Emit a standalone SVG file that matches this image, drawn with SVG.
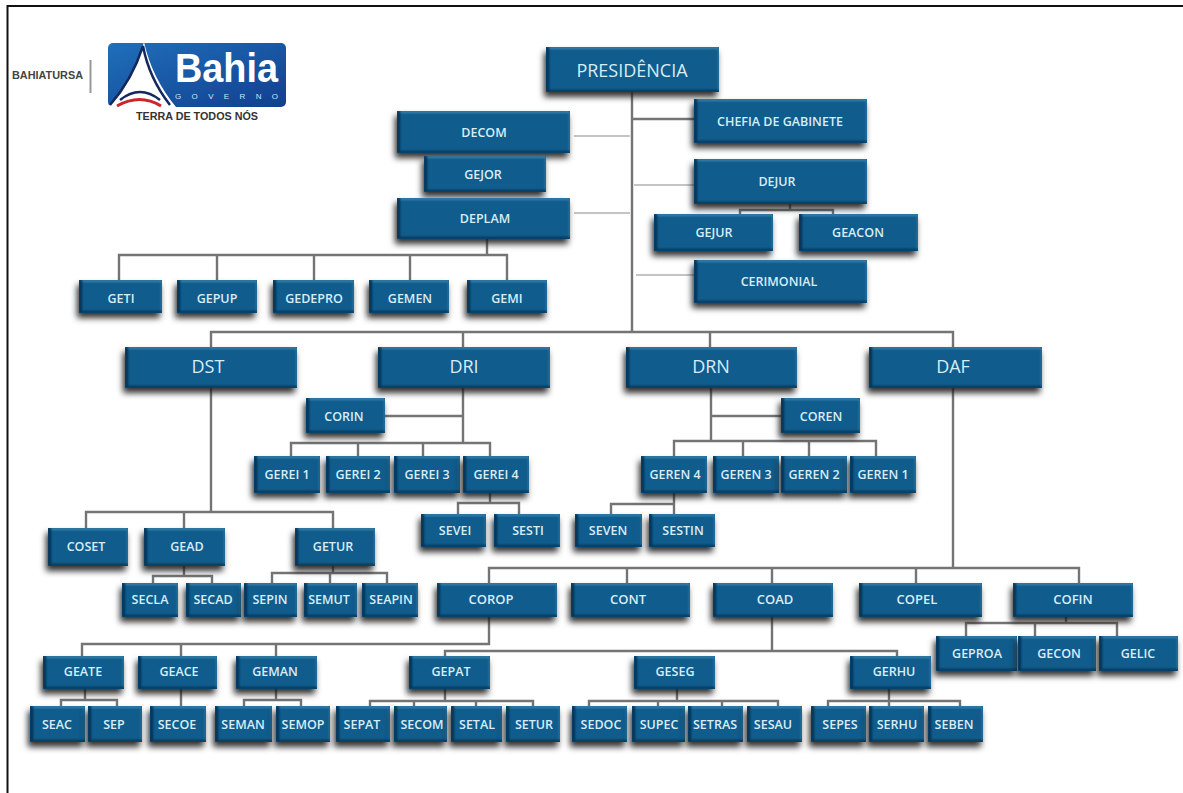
<svg xmlns="http://www.w3.org/2000/svg" width="1183" height="793" viewBox="0 0 1183 793">
<style>
.box{fill:#0f5c8d;filter:url(#bevel)}
.t{font-family:"Open Sans","Liberation Sans",sans-serif;font-size:12.5px;font-weight:600;fill:#d9edf6;text-anchor:middle;dominant-baseline:central}
.b{font-size:18px;font-weight:400}
.m{font-size:13px}
.c{fill:none;stroke:#747474;stroke-width:2.4}
.l{fill:none;stroke:#c4c4c4;stroke-width:2}
</style>
<defs>
<filter id="bevel" x="-20%" y="-30%" width="140%" height="175%" color-interpolation-filters="sRGB">
<feGaussianBlur in="SourceAlpha" stdDeviation="3" result="sb"/>
<feOffset in="sb" dx="-2.500" dy="4.500" result="so"/>
<feFlood flood-color="#1c1c1c" flood-opacity=".9"/>
<feComposite in2="so" operator="in" result="shadow"/>
<feOffset in="SourceAlpha" dx="2.500" dy="-2.500" result="d1"/>
<feComposite in="SourceAlpha" in2="d1" operator="out" result="d2"/>
<feFlood flood-color="#06304f"/>
<feComposite in2="d2" operator="in" result="dark"/>
<feOffset in="SourceAlpha" dx="-1.500" dy="1.500" result="l1"/>
<feComposite in="SourceAlpha" in2="l1" operator="out" result="l2"/>
<feFlood flood-color="#3f87ad"/>
<feComposite in2="l2" operator="in" result="light"/>
<feMerge result="edge"><feMergeNode in="light"/><feMergeNode in="dark"/></feMerge>
<feGaussianBlur in="edge" stdDeviation=".9" result="edgeb"/>
<feComposite in="edgeb" in2="SourceAlpha" operator="in" result="edgec"/>
<feMerge><feMergeNode in="shadow"/><feMergeNode in="SourceGraphic"/><feMergeNode in="edgec"/></feMerge>
</filter>
<linearGradient id="logo" x1="0" y1="0" x2="1" y2="1"><stop offset="0" stop-color="#1f6fba"/><stop offset="1" stop-color="#123f8f"/></linearGradient>
</defs>
<rect width="1183" height="793" fill="#fff"/>
<path d="M1183 6H7.500V793" fill="none" stroke="#111" stroke-width="2"/>
<g id="logo-group">
<text x="47.500" y="75" font-family="Liberation Sans,sans-serif" font-size="10" font-weight="700" fill="#444" text-anchor="middle" dominant-baseline="central" textLength="71" lengthAdjust="spacingAndGlyphs">BAHIATURSA</text>
<rect x="89.500" y="60" width="2" height="33" fill="#999"/>
<rect x="108" y="43" width="178" height="64" rx="5" fill="url(#logo)"/>
<path d="M108 107Q132 82 144 42Q152 78 176 107Z" fill="#fff"/>
<path d="M110 105Q132 80 143 46Q149 78 170 105" fill="none" stroke="#14285f" stroke-width="2.500"/>
<path d="M120 100Q140 84 160 100" fill="none" stroke="#14285f" stroke-width="2.500"/>
<path d="M117 106Q140 93 161 106" fill="none" stroke="#d0232b" stroke-width="3"/>
<text x="226.500" y="68" font-family="Liberation Sans,sans-serif" font-size="41" font-weight="700" fill="#fff" text-anchor="middle" dominant-baseline="central" textLength="103" lengthAdjust="spacingAndGlyphs">Bahia</text>
<text x="226.500" y="96" font-family="Liberation Sans,sans-serif" font-size="8" fill="#cfe2f5" text-anchor="middle" dominant-baseline="central" textLength="103">GOVERNO</text>
<text x="197" y="116" font-family="Liberation Sans,sans-serif" font-size="10.500" font-weight="700" fill="#333" text-anchor="middle" dominant-baseline="central" textLength="122" lengthAdjust="spacingAndGlyphs">TERRA DE TODOS NÓS</text>
</g>
<g id="connectors">
<path class="l" d="M574 136H630M574 213H630M634 185H694M636 275H694"/>
<path class="c" d="M632 92V332M632 119H694M740 214V210H833V214M790 204V210M487 239V255M119 280V255H507V280M217 255V280M314 255V280M410 255V280M211 347V332H953V347M463 332V347M710 332V347M463 388V443M385 416H463M291 456V443H490V456M358 443V456M423 443V456M490 493V503M458 514V503H519V514M711 388V441M711 416H781M674 456V441H876V456M743 441V456M809 441V456M674 493V504M611 514V504H674V514M211 388V512M86 528V512H333V528M184 512V528M184 566V576M153 583V576H212V583M333 566V573M272 583V573H387V583M330 573V583M953 388V568M489 583V568H1079V583M627 568V583M772 568V583M916 568V583M489 617V644H82V656M181 644V656M276 644V656M772 617V651H445V656M772 651H897V656M85 689V700M61 706V700H117V706M181 689V706M276 689V700M244 706V700H301V706M445 689V701M370 706V701H533V706M414 701V706M476 701V706M677 689V701M589 706V701H778V706M658 701V706M722 701V706M889 689V706M828 706V701H960V706M1066 617V623M966 636V623H1117V636M1035 623V636"/>
</g>
<g id="n-presidencia"><rect class="box" x="546" y="47" width="173" height="45"/><text class="t b" x="632" y="70">PRESIDÊNCIA</text></g>
<g id="n-chefia"><rect class="box" x="694" y="99" width="173" height="44"/><text class="t" x="780" y="121">CHEFIA DE GABINETE</text></g>
<g id="n-decom"><rect class="box" x="397" y="111" width="173" height="42"/><text class="t" x="484" y="132">DECOM</text></g>
<g id="n-gejor"><rect class="box" x="424" y="156" width="122" height="36"/><text class="t" x="483" y="174">GEJOR</text></g>
<g id="n-deplam"><rect class="box" x="397" y="198" width="173" height="41"/><text class="t" x="485" y="218">DEPLAM</text></g>
<g id="n-dejur"><rect class="box" x="694" y="159" width="173" height="45"/><text class="t" x="777" y="181">DEJUR</text></g>
<g id="n-gejur"><rect class="box" x="654" y="214" width="119" height="37"/><text class="t" x="714" y="232">GEJUR</text></g>
<g id="n-geacon"><rect class="box" x="799" y="214" width="119" height="37"/><text class="t" x="858" y="232">GEACON</text></g>
<g id="n-cerimonial"><rect class="box" x="694" y="260" width="173" height="43"/><text class="t" x="779" y="281">CERIMONIAL</text></g>
<g id="n-geti"><rect class="box" x="79" y="280" width="83" height="33"/><text class="t" x="121" y="298">GETI</text></g>
<g id="n-gepup"><rect class="box" x="177" y="280" width="80" height="33"/><text class="t" x="217" y="298">GEPUP</text></g>
<g id="n-gedepro"><rect class="box" x="273" y="280" width="81" height="33"/><text class="t" x="314" y="298">GEDEPRO</text></g>
<g id="n-gemen"><rect class="box" x="369" y="280" width="80" height="33"/><text class="t" x="410" y="298">GEMEN</text></g>
<g id="n-gemi"><rect class="box" x="467" y="280" width="80" height="33"/><text class="t" x="507" y="298">GEMI</text></g>
<g id="n-dst"><rect class="box" x="125" y="347" width="172" height="41"/><text class="t b" x="208" y="366">DST</text></g>
<g id="n-dri"><rect class="box" x="378" y="347" width="172" height="41"/><text class="t b" x="464" y="366">DRI</text></g>
<g id="n-drn"><rect class="box" x="626" y="347" width="171" height="41"/><text class="t b" x="711" y="366">DRN</text></g>
<g id="n-daf"><rect class="box" x="869" y="347" width="173" height="41"/><text class="t b" x="953" y="366">DAF</text></g>
<g id="n-corin"><rect class="box" x="306" y="398" width="79" height="35"/><text class="t" x="344" y="416">CORIN</text></g>
<g id="n-coren"><rect class="box" x="781" y="398" width="79" height="35"/><text class="t" x="821" y="416">COREN</text></g>
<g id="n-gerei1"><rect class="box" x="254" y="456" width="66" height="37"/><text class="t" x="287" y="474">GEREI 1</text></g>
<g id="n-gerei2"><rect class="box" x="326" y="456" width="64" height="37"/><text class="t" x="358" y="474">GEREI 2</text></g>
<g id="n-gerei3"><rect class="box" x="394" y="456" width="66" height="37"/><text class="t" x="427" y="474">GEREI 3</text></g>
<g id="n-gerei4"><rect class="box" x="463" y="456" width="66" height="37"/><text class="t" x="496" y="474">GEREI 4</text></g>
<g id="n-geren4"><rect class="box" x="641" y="456" width="66" height="37"/><text class="t" x="675" y="474">GEREN 4</text></g>
<g id="n-geren3"><rect class="box" x="713" y="456" width="66" height="37"/><text class="t" x="746" y="474">GEREN 3</text></g>
<g id="n-geren2"><rect class="box" x="781" y="456" width="66" height="37"/><text class="t" x="814" y="474">GEREN 2</text></g>
<g id="n-geren1"><rect class="box" x="850" y="456" width="66" height="37"/><text class="t" x="883" y="474">GEREN 1</text></g>
<g id="n-sevei"><rect class="box" x="421" y="514" width="65" height="33"/><text class="t" x="455" y="530">SEVEI</text></g>
<g id="n-sesti"><rect class="box" x="494" y="514" width="66" height="33"/><text class="t" x="528" y="530">SESTI</text></g>
<g id="n-seven"><rect class="box" x="575" y="514" width="67" height="33"/><text class="t" x="608" y="530">SEVEN</text></g>
<g id="n-sestin"><rect class="box" x="649" y="514" width="66" height="33"/><text class="t" x="683" y="530">SESTIN</text></g>
<g id="n-coset"><rect class="box" x="48" y="528" width="80" height="38"/><text class="t" x="86" y="546">COSET</text></g>
<g id="n-gead"><rect class="box" x="144" y="528" width="81" height="38"/><text class="t" x="187" y="546">GEAD</text></g>
<g id="n-getur"><rect class="box" x="295" y="528" width="80" height="38"/><text class="t" x="333" y="546">GETUR</text></g>
<g id="n-secla"><rect class="box" x="122" y="583" width="56" height="34"/><text class="t" x="150" y="599">SECLA</text></g>
<g id="n-secad"><rect class="box" x="186" y="583" width="55" height="34"/><text class="t" x="213" y="599">SECAD</text></g>
<g id="n-sepin"><rect class="box" x="244" y="583" width="53" height="34"/><text class="t" x="270" y="599">SEPIN</text></g>
<g id="n-semut"><rect class="box" x="304" y="583" width="53" height="34"/><text class="t" x="329" y="599">SEMUT</text></g>
<g id="n-seapin"><rect class="box" x="362" y="583" width="56" height="34"/><text class="t" x="391" y="599">SEAPIN</text></g>
<g id="n-corop"><rect class="box" x="437" y="583" width="120" height="34"/><text class="t m" x="491" y="599">COROP</text></g>
<g id="n-cont"><rect class="box" x="571" y="583" width="119" height="34"/><text class="t m" x="628" y="599">CONT</text></g>
<g id="n-coad"><rect class="box" x="713" y="583" width="120" height="34"/><text class="t m" x="775" y="599">COAD</text></g>
<g id="n-copel"><rect class="box" x="859" y="583" width="123" height="34"/><text class="t m" x="917" y="599">COPEL</text></g>
<g id="n-cofin"><rect class="box" x="1013" y="583" width="120" height="34"/><text class="t m" x="1073" y="599">COFIN</text></g>
<g id="n-geproa"><rect class="box" x="936" y="636" width="81" height="35"/><text class="t" x="977" y="653">GEPROA</text></g>
<g id="n-gecon"><rect class="box" x="1018" y="636" width="78" height="35"/><text class="t" x="1059" y="653">GECON</text></g>
<g id="n-gelic"><rect class="box" x="1099" y="636" width="79" height="35"/><text class="t" x="1138" y="653">GELIC</text></g>
<g id="n-geate"><rect class="box" x="43" y="656" width="81" height="33"/><text class="t" x="83" y="671">GEATE</text></g>
<g id="n-geace"><rect class="box" x="138" y="656" width="79" height="33"/><text class="t" x="179" y="671">GEACE</text></g>
<g id="n-geman"><rect class="box" x="236" y="656" width="81" height="33"/><text class="t" x="275" y="671">GEMAN</text></g>
<g id="n-gepat"><rect class="box" x="409" y="656" width="81" height="33"/><text class="t" x="451" y="671">GEPAT</text></g>
<g id="n-geseg"><rect class="box" x="634" y="656" width="81" height="33"/><text class="t" x="675" y="671">GESEG</text></g>
<g id="n-gerhu"><rect class="box" x="850" y="656" width="81" height="33"/><text class="t" x="894" y="671">GERHU</text></g>
<g id="n-seac"><rect class="box" x="30" y="706" width="55" height="36"/><text class="t" x="57" y="724">SEAC</text></g>
<g id="n-sep"><rect class="box" x="88" y="706" width="54" height="36"/><text class="t" x="114" y="724">SEP</text></g>
<g id="n-secoe"><rect class="box" x="150" y="706" width="56" height="36"/><text class="t" x="177" y="724">SECOE</text></g>
<g id="n-seman"><rect class="box" x="215" y="706" width="57" height="36"/><text class="t" x="243" y="724">SEMAN</text></g>
<g id="n-semop"><rect class="box" x="276" y="706" width="54" height="36"/><text class="t" x="303" y="724">SEMOP</text></g>
<g id="n-sepat"><rect class="box" x="336" y="706" width="54" height="36"/><text class="t" x="362" y="724">SEPAT</text></g>
<g id="n-secom"><rect class="box" x="394" y="706" width="53" height="36"/><text class="t" x="422" y="724">SECOM</text></g>
<g id="n-setal"><rect class="box" x="451" y="706" width="51" height="36"/><text class="t" x="477" y="724">SETAL</text></g>
<g id="n-setur"><rect class="box" x="506" y="706" width="54" height="36"/><text class="t" x="534" y="724">SETUR</text></g>
<g id="n-sedoc"><rect class="box" x="572" y="706" width="55" height="36"/><text class="t" x="601" y="724">SEDOC</text></g>
<g id="n-supec"><rect class="box" x="632" y="706" width="53" height="36"/><text class="t" x="659" y="724">SUPEC</text></g>
<g id="n-setras"><rect class="box" x="688" y="706" width="55" height="36"/><text class="t" x="715" y="724">SETRAS</text></g>
<g id="n-sesau"><rect class="box" x="747" y="706" width="55" height="36"/><text class="t" x="773" y="724">SESAU</text></g>
<g id="n-sepes"><rect class="box" x="811" y="706" width="55" height="36"/><text class="t" x="840" y="724">SEPES</text></g>
<g id="n-serhu"><rect class="box" x="869" y="706" width="55" height="36"/><text class="t" x="897" y="724">SERHU</text></g>
<g id="n-seben"><rect class="box" x="928" y="706" width="55" height="36"/><text class="t" x="954" y="724">SEBEN</text></g>
</svg>
